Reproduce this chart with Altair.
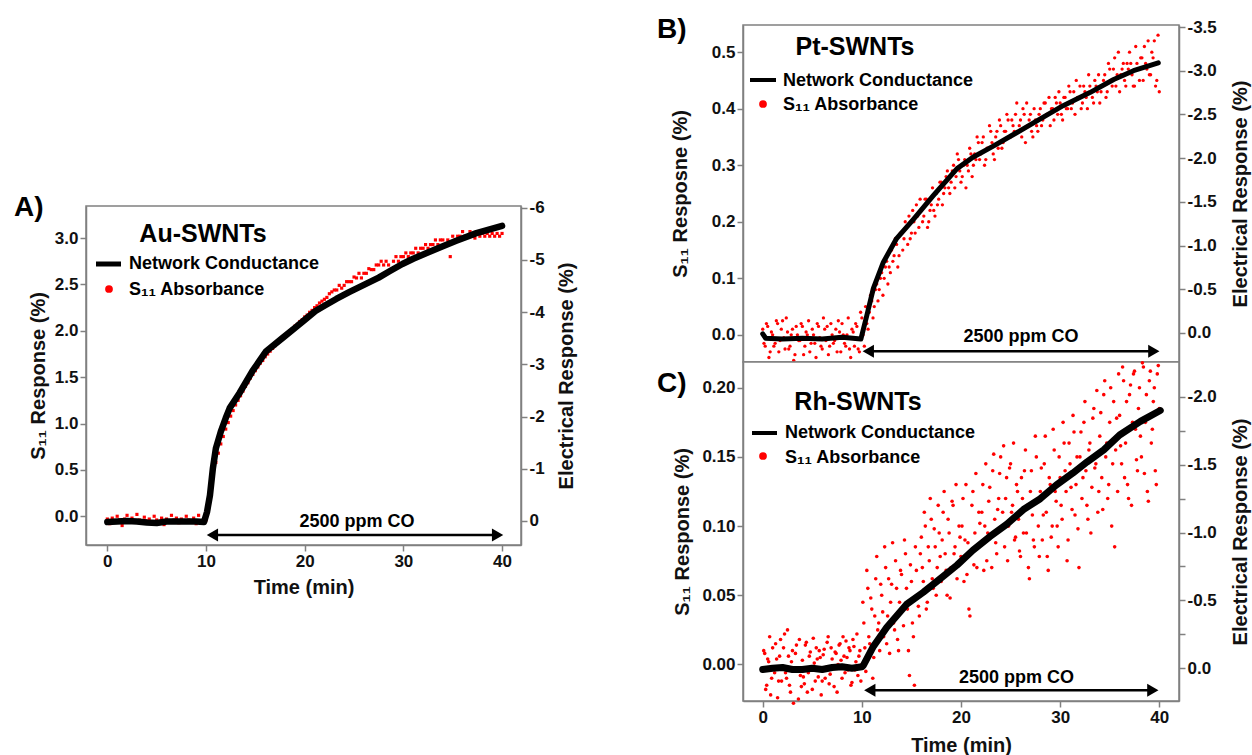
import altair as alt
import pandas as pd

FONT = "Liberation Sans"
GRAY = "#808080"
INK = "#111111"
RED = "#ff0000"

TIME_TICKS = [0, 10, 20, 30, 40]
CO_LABEL = "2500 ppm CO"
LEGEND_LINE = "Network Conductance"
LEGEND_DOTS = "S\u2081\u2081 Absorbance"
RIGHT_TITLE = "Electrical Response (%)"

# ---------------- Panel A : Au-SWNTs ----------------
a_cond_time = [0, 1, 2, 3, 4, 5, 6, 7, 8, 9, 9.8, 10.1, 10.4, 10.7, 11.0, 11.5, 12.0, 12.4,
               13.4, 14.7, 16.1, 17.8, 19.1, 20.0, 21.1, 22.0, 23.2, 24.5, 26.0, 27.5,
               28.6, 29.9, 31.0, 32.6, 34.0, 35.3, 37.4, 40.0]
a_cond = [0.02, 0.01, 0.0, 0.01, 0.03, 0.04, 0.01, 0.01, 0.01, 0.01, 0.02, -0.17, -0.49,
          -1.01, -1.39, -1.71, -1.97, -2.16, -2.45, -2.87, -3.25, -3.51, -3.71, -3.85,
          -4.02, -4.12, -4.25, -4.38, -4.52, -4.66, -4.78, -4.92, -5.02, -5.15, -5.26,
          -5.36, -5.51, -5.65]
a_s11_step = 0.25
a_s11 = [
    -0.03, -0.08, -0.02, -0.05, 0.00, -0.04, -0.10, -0.03, 0.01, -0.05,
    -0.02, -0.06, 0.02, -0.04, -0.07, -0.01, -0.05, -0.03, -0.08, 0.00,
    -0.04, -0.06, -0.02, -0.09, -0.03, -0.05, 0.01, -0.04, -0.02, -0.07,
    -0.03, -0.05, 0.00, -0.04, -0.06, -0.02, -0.08, 0.01, -0.05, -0.03,
    -0.04, 0.08, 0.28, 0.45, 0.58, 0.68, 0.78, 0.86, 0.94, 1.01, 1.08, 1.14,
    1.20, 1.25, 1.30, 1.35, 1.40, 1.44, 1.49, 1.53, 1.57, 1.61, 1.65, 1.68,
    1.72, 1.75, 1.78, 1.81, 1.84, 1.87, 1.90, 1.92, 1.95, 1.97, 2.00, 2.02,
    2.05, 2.07, 2.10, 2.12, 2.15, 2.17, 2.20, 2.22, 2.25, 2.27, 2.30, 2.32,
    2.34, 2.36, 2.40, 2.42, 2.44, 2.44, 2.49, 2.46, 2.49, 2.53, 2.53, 2.53,
    2.58, 2.57, 2.62, 2.57, 2.62, 2.62, 2.67, 2.66, 2.66, 2.71, 2.71, 2.75,
    2.71, 2.75, 2.71, 2.66, 2.75, 2.80, 2.75, 2.80, 2.80, 2.84, 2.80, 2.84,
    2.84, 2.89, 2.84, 2.89, 2.89, 2.93, 2.89, 2.93, 2.93, 2.98, 2.93, 2.98,
    2.98, 2.93, 2.98, 2.80, 3.02, 2.98, 3.02, 3.02, 3.07, 3.02, 3.02, 3.07,
    3.02, 3.00, 3.05, 3.02, 3.05, 3.02, 3.05, 3.02, 3.05, 3.02, 3.05, 3.02,
    3.05]

# ---------------- Panel B : Pt-SWNTs ----------------
b_cond_time = [0, 0.3, 2, 4, 6, 8, 9.9, 10.5, 11.16, 12.17, 13.5, 15.2, 17.2, 19.6, 21.2,
               23.3, 25.6, 28.0, 30.3, 33.0, 35.4, 37.4, 39.9]
b_cond = [0.01, 0.06, 0.07, 0.06, 0.07, 0.05, 0.07, -0.20, -0.51, -0.81, -1.08, -1.30,
          -1.57, -1.88, -2.01, -2.14, -2.29, -2.45, -2.60, -2.75, -2.90, -3.00, -3.09]
b_s11_step = 0.25
b_s11 = [
    0.01, -0.02, 0.015, -0.03, 0.0, -0.015, 0.02, -0.01, 0.025, -0.025,
    0.005, -0.02, 0.01, -0.035, 0.0, -0.01, 0.015, -0.02, 0.0, -0.03,
    0.01, -0.015, 0.02, -0.005, -0.025, 0.01, 0.015, -0.02, 0.0, -0.01,
    -0.03, 0.005, 0.02, -0.015, 0.0, -0.025, 0.01, -0.02, 0.015, -0.03,
    0.03, -0.02, 0.02, 0.04, 0.06, 0.05, 0.09, 0.08, 0.11, 0.10, 0.13, 0.12,
    0.15, 0.14, 0.16, 0.14, 0.18, 0.17, 0.19, 0.21, 0.18, 0.20, 0.23, 0.19,
    0.22, 0.21, 0.24, 0.20, 0.23, 0.22, 0.25, 0.24, 0.27, 0.25, 0.28, 0.26,
    0.27, 0.30, 0.28, 0.31, 0.27, 0.30, 0.26, 0.29, 0.32, 0.30, 0.31, 0.34,
    0.32, 0.35, 0.31, 0.33, 0.36, 0.32, 0.35, 0.33, 0.37, 0.34, 0.36, 0.38,
    0.35, 0.37, 0.39, 0.36, 0.38, 0.40, 0.34, 0.37, 0.39, 0.35, 0.38, 0.36,
    0.40, 0.38, 0.41, 0.39, 0.37, 0.40, 0.42, 0.39, 0.41, 0.38, 0.42, 0.40,
    0.43, 0.41, 0.39, 0.42, 0.44, 0.41, 0.43, 0.40, 0.44, 0.42, 0.45, 0.43,
    0.41, 0.44, 0.46, 0.43, 0.47, 0.44, 0.49, 0.46, 0.43, 0.47, 0.45, 0.48,
    0.50, 0.46, 0.44, 0.48, 0.45, 0.49, 0.51, 0.47, 0.46, 0.50, 0.52, 0.45,
    0.43]
# second interleaved scan (starts at 0.125 min)
b_s11_b = [
    -0.015, 0.02, -0.04, 0.005, -0.02, 0.025, -0.03, 0.01, -0.005, 0.03,
    -0.025, 0.0, -0.045, 0.015, -0.01, 0.02, -0.035, 0.005, 0.025, -0.015,
    0.0, -0.04, 0.015, -0.02, 0.03, -0.01, -0.035, 0.02, -0.015, 0.01,
    0.025, -0.03, 0.0, -0.02, 0.03, -0.04, 0.005, 0.02, -0.025, 0.04,
    0.0, 0.05, 0.01, 0.07, 0.03, 0.08, 0.06, 0.10, 0.07, 0.12, 0.09, 0.11,
    0.13, 0.17, 0.12, 0.18, 0.15, 0.20, 0.16, 0.17, 0.22, 0.18, 0.21, 0.24,
    0.20, 0.24, 0.19, 0.22, 0.26, 0.21, 0.23, 0.27, 0.23, 0.26, 0.29, 0.25,
    0.29, 0.26, 0.32, 0.29, 0.28, 0.31, 0.30, 0.33, 0.28, 0.32, 0.35, 0.31,
    0.34, 0.30, 0.33, 0.37, 0.34, 0.31, 0.36, 0.38, 0.33, 0.36, 0.39, 0.35,
    0.38, 0.36, 0.41, 0.37, 0.35, 0.39, 0.41, 0.38, 0.36, 0.40, 0.37, 0.39,
    0.37, 0.41, 0.39, 0.42, 0.40, 0.38, 0.41, 0.43, 0.39, 0.42, 0.40, 0.44,
    0.40, 0.43, 0.45, 0.42, 0.40, 0.44, 0.42, 0.46, 0.43, 0.41, 0.44, 0.46,
    0.43, 0.45, 0.42, 0.48, 0.45, 0.47, 0.44, 0.50, 0.46, 0.48, 0.44, 0.47,
    0.48, 0.44, 0.51, 0.47, 0.49, 0.45, 0.48, 0.52, 0.46, 0.49, 0.44, 0.53]

# ---------------- Panel C : Rh-SWNTs ----------------
c_cond_time = [0, 1, 2, 3, 4, 5, 6, 7, 8, 9, 10, 10.15, 11.16, 12.5, 14.5, 16.2, 17.9, 19.6,
               21.2, 22.9, 24.6, 26.3, 28.0, 29.6, 31.3, 32.7, 34.4, 36.0, 38.1, 40.1]
c_cond = [0.01, 0.0, -0.005, 0.01, 0.01, 0.0, 0.01, -0.005, -0.01, 0.0, -0.01, -0.02,
          -0.16, -0.30, -0.47, -0.56, -0.66, -0.76, -0.87, -0.97, -1.06, -1.17, -1.25,
          -1.35, -1.44, -1.52, -1.61, -1.72, -1.82, -1.90]
c_s11_step = 0.2
c_s11 = [
    -0.004, 0.008, -0.015, 0.002, -0.022, 0.012, -0.006, 0.004, -0.012, 0.018,
    -0.002, 0.022, -0.010, 0.006, -0.020, 0.010, -0.003, 0.014, -0.025, -0.008,
    0.003, -0.014, 0.016, -0.006, 0.009, -0.018, 0.001, 0.012, -0.009, 0.005,
    -0.012, 0.011, -0.002, 0.020, -0.007, 0.004, -0.016, 0.008, 0.000, 0.015,
    -0.010, 0.006, 0.017, -0.004, 0.010, -0.013, 0.013, 0.002, -0.008, 0.010,
    0.000, 0.030, -0.005, 0.055, 0.015, 0.040, 0.005, 0.062, 0.025, 0.010,
    0.050, 0.020, 0.070, 0.035, 0.008, 0.058, 0.030, 0.075, 0.018, 0.045,
    0.065, 0.028, 0.080, 0.040, -0.008, 0.060, 0.020, 0.085, 0.050, 0.035,
    0.092, 0.060, 0.100, 0.045, 0.075, 0.105, 0.055, 0.085, 0.070, 0.095,
    0.060, 0.110, 0.080, 0.050, 0.095, 0.070, 0.115, 0.085, 0.062, 0.100,
    0.078, 0.120, 0.090, 0.065, 0.040, 0.082, 0.125, 0.095, 0.070, 0.110,
    0.088, 0.130, 0.100, 0.075, 0.118, 0.092, 0.140, 0.105, 0.080, 0.120,
    0.150, 0.110, 0.085, 0.135, 0.100, 0.145, 0.115, 0.090, 0.130, 0.105,
    0.078, 0.120, 0.140, 0.095, 0.070, 0.125, 0.108, 0.085, 0.150, 0.100,
    0.125, 0.090, 0.145, 0.110, 0.068, 0.130, 0.100, 0.155, 0.118, 0.085,
    0.135, 0.105, 0.160, 0.125, 0.090, 0.145, 0.112, 0.168, 0.130, 0.098,
    0.150, 0.120, 0.175, 0.140, 0.105, 0.160, 0.128, 0.185, 0.145, 0.110,
    0.165, 0.135, 0.195, 0.150, 0.120, 0.175, 0.100, 0.190, 0.155, 0.125,
    0.180, 0.145, 0.205, 0.160, 0.130, 0.195, 0.115, 0.210, 0.170, 0.140,
    0.200, 0.150, 0.215, 0.175, 0.125, 0.205, 0.160, 0.190, 0.140, 0.210,
    0.185]
# second interleaved scan (starts at 0.1 min)
c_s11_b = [
    0.010, -0.018, 0.004, 0.020, -0.010, -0.002, 0.015, -0.024, 0.006, -0.012,
    0.012, -0.006, 0.025, -0.015, 0.002, -0.028, 0.008, -0.004, 0.018, -0.016,
    -0.009, 0.014, -0.020, 0.006, -0.003, 0.019, -0.012, 0.004, 0.010, -0.022,
    0.007, -0.010, 0.016, -0.014, 0.012, -0.001, 0.009, -0.020, 0.014, 0.003,
    0.020, -0.006, 0.005, 0.012, -0.015, 0.018, -0.004, 0.022, 0.006, -0.012,
    0.045, 0.012, 0.068, 0.020, 0.048, -0.010, 0.035, 0.078, 0.030, 0.058,
    0.038, 0.085, 0.015, 0.062, 0.045, 0.088, 0.025, 0.055, 0.010, 0.068,
    0.040, 0.090, 0.055, 0.010, 0.072, 0.030, -0.015, 0.068, 0.042, 0.080,
    0.070, 0.110, 0.040, 0.085, 0.120, 0.062, 0.098, 0.050, 0.115, 0.078,
    0.090, 0.125, 0.068, 0.105, 0.048, 0.118, 0.080, 0.130, 0.072, 0.092,
    0.100, 0.060, 0.130, 0.088, 0.035, 0.115, 0.072, 0.138, 0.085, 0.102,
    0.110, 0.068, 0.145, 0.095, 0.128, 0.070, 0.152, 0.088, 0.112, 0.138,
    0.098, 0.158, 0.120, 0.075, 0.142, 0.110, 0.160, 0.092, 0.125, 0.082,
    0.135, 0.095, 0.155, 0.115, 0.062, 0.140, 0.090, 0.165, 0.118, 0.078,
    0.142, 0.108, 0.165, 0.078, 0.135, 0.092, 0.170, 0.125, 0.100, 0.150,
    0.115, 0.175, 0.140, 0.075, 0.160, 0.128, 0.180, 0.108, 0.150, 0.070,
    0.168, 0.135, 0.190, 0.115, 0.155, 0.095, 0.178, 0.142, 0.198, 0.125,
    0.182, 0.112, 0.205, 0.160, 0.130, 0.200, 0.145, 0.085, 0.178, 0.210,
    0.158, 0.215, 0.135, 0.190, 0.120, 0.202, 0.175, 0.212, 0.148, 0.185,
    0.165, 0.218, 0.138, 0.195, 0.118, 0.212, 0.170, 0.200, 0.130, 0.216]

ONE = pd.DataFrame({"k": [0]})


def neg_label(fmt):
    return ("datum.value < 0 ? '-' + format(-datum.value, '%s') : format(datum.value, '%s')"
            % (fmt, fmt))


def txt(text, x, y, size, align="left"):
    return alt.Chart(ONE).mark_text(
        text=text, font=FONT, fontSize=size, fontWeight="bold", color="black",
        align=align, baseline="middle").encode(x=alt.value(x), y=alt.value(y))


def scan_frame(scans):
    ts, vs = [], []
    for values, start, step in scans:
        ts += [round(start + i * step, 3) for i in range(len(values))]
        vs += list(values)
    return pd.DataFrame({"t": ts, "s": vs})


def panel(p):
    xs = alt.Scale(domain=p["xdom"], nice=False, zero=False)
    ls = alt.Scale(domain=p["ldom"], nice=False, zero=False)
    rs = alt.Scale(domain=p["rdom"], nice=False, zero=False)
    if p["xlabels"]:
        xax = alt.Axis(values=TIME_TICKS, format="d", title="Time (min)",
                       titlePadding=p["xtp"], labelFlush=False)
    else:
        xax = alt.Axis(values=TIME_TICKS, labels=False, title=None)
    lax = alt.Axis(orient="left", values=p["lvals"], labelExpr=neg_label(p["lfmt"]),
                   title=p["ltitle"], titlePadding=p["ltp"], labelFlush=False)
    rax = alt.Axis(orient="right", values=p["rvals"], labelExpr=p["rexpr"],
                   title=RIGHT_TITLE, titlePadding=p["rtp"], titleAngle=270,
                   titleBaseline="top", labelFlush=False)
    X = alt.X("t:Q", scale=xs, axis=xax)
    YL = alt.Y("s:Q", scale=ls, axis=lax)

    red = alt.Chart(scan_frame(p["scans"])).mark_point(
        shape=p["dot_shape"], filled=True, size=p["dot_size"], color=RED, opacity=1,
        strokeWidth=0).encode(x=X, y=YL)

    t0, t1, ay = p["arrow"]
    rule_df = pd.DataFrame({"t": [t0 + 0.4], "t2": [t1 - 0.4], "s": [ay]})
    rule = alt.Chart(rule_df).mark_rule(color="black", strokeWidth=2.5).encode(
        x=X, x2="t2:Q", y=YL)
    head_df = pd.DataFrame({"t": [t0 + 0.65, t1 - 0.65], "s": [ay, ay], "d": ["L", "R"]})
    heads = alt.Chart(head_df).mark_point(filled=True, size=170, color="black",
                                          opacity=1, strokeWidth=0).encode(
        x=X, y=YL,
        shape=alt.Shape("d:N", scale=alt.Scale(domain=["L", "R"],
                                               range=["triangle-left", "triangle-right"]),
                        legend=None))
    lab_df = pd.DataFrame({"t": [p["lab"][0]], "s": [p["lab"][1]], "txt": [CO_LABEL]})
    lab = alt.Chart(lab_df).mark_text(font=FONT, fontSize=18, fontWeight="bold",
                                      color="black", align="center",
                                      baseline="middle").encode(x=X, y=YL, text="txt:N")

    line_df = pd.DataFrame({"t": p["ct"], "v": p["cv"]})
    line = alt.Chart(line_df).mark_line(
        color="black", strokeWidth=p["lw"], strokeCap="round", strokeJoin="round").encode(
        x=X, y=alt.Y("v:Q", scale=rs, axis=rax))

    lg = p["legend"]
    decor = [
        txt(p["name"], lg["title"][0], lg["title"][1], 25, align="center"),
        alt.Chart(ONE).mark_rule(color="black", strokeWidth=lg["lsw"]).encode(
            x=alt.value(lg["line"][0]), x2=alt.value(lg["line"][1]),
            y=alt.value(lg["line"][2])),
        txt(LEGEND_LINE, lg["text1"][0], lg["text1"][1], 18),
        alt.Chart(ONE).mark_circle(color=RED, size=60, opacity=1).encode(
            x=alt.value(lg["dot"][0]), y=alt.value(lg["dot"][1])),
        txt(LEGEND_DOTS, lg["text2"][0], lg["text2"][1], 18),
        txt(p["letter"], lg["letter"][0], lg["letter"][1], 28),
    ]
    return alt.layer(alt.layer(red, rule, heads, lab), line, *decor).resolve_scale(
        y="independent").properties(width=p["w"], height=p["h"])


pA = dict(
    name="Au-SWNTs", letter="A)", w=435, h=339,
    xdom=[-2.16, 41.92], ldom=[-0.31, 3.346], rdom=[0.46, -6.03],
    xlabels=True, xtp=8,
    lvals=[0, 0.5, 1.0, 1.5, 2.0, 2.5, 3.0], lfmt=".1f", ltitle="S\u2081\u2081 Response (%)", ltp=6,
    rvals=[-6, -5, -4, -3, -2, -1, 0], rexpr=neg_label("d"), rtp=12,
    ct=a_cond_time, cv=a_cond, lw=6.5,
    scans=[(a_s11, 0.0, a_s11_step)],
    dot_shape="square", dot_size=10,
    arrow=(10.0, 40.2, -0.203), lab=(25.3, -0.06),
    legend=dict(title=(117, 28), line=(10, 35, 58), lsw=5, text1=(43, 58), dot=(23, 83),
                text2=(43, 84), letter=(-72, 2)),
)
pB = dict(
    name="Pt-SWNTs", letter="B)", w=436, h=337,
    xdom=[-1.99, 41.99], ldom=[-0.048, 0.548], rdom=[0.332, -3.523],
    xlabels=False, xtp=8,
    lvals=[0, 0.1, 0.2, 0.3, 0.4, 0.5], lfmt=".1f", ltitle="S\u2081\u2081 Resposne (%)", ltp=21,
    rvals=[-3.5, -3.0, -2.5, -2.0, -1.5, -1.0, -0.5, 0.0], rexpr=neg_label(".1f"), rtp=14,
    ct=b_cond_time, cv=b_cond, lw=5,
    scans=[(b_s11, 0.0, b_s11_step), (b_s11_b, 0.125, b_s11_step)],
    dot_shape="circle", dot_size=11,
    arrow=(10.0, 40.1, -0.029), lab=(26.05, -0.004),
    legend=dict(title=(112, 22), line=(7, 33, 55), lsw=4, text1=(40, 56), dot=(20, 79),
                text2=(40, 80), letter=(-86, 5)),
)
pC = dict(
    name="Rh-SWNTs", letter="C)", w=436, h=339,
    xdom=[-1.99, 41.99], ldom=[-0.0264, 0.2186], rdom=[0.242, -2.258],
    xlabels=True, xtp=10,
    lvals=[0, 0.05, 0.10, 0.15, 0.20], lfmt=".2f", ltitle="S\u2081\u2081 Response (%)", ltp=9,
    rvals=[-2.0, -1.75, -1.5, -1.25, -1.0, -0.75, -0.5, -0.25, 0.0],
    rexpr="abs(datum.value * 2 - round(datum.value * 2)) < 0.001 ? (" + neg_label(".1f") + ") : ''",
    rtp=14,
    ct=c_cond_time, cv=c_cond, lw=7,
    scans=[(c_s11, 0.0, c_s11_step), (c_s11_b, 0.1, c_s11_step)],
    dot_shape="circle", dot_size=13,
    arrow=(10.15, 40.0, -0.0186), lab=(25.6, -0.010),
    legend=dict(title=(115, 40), line=(9, 34, 71), lsw=4, text1=(42, 71), dot=(20, 94),
                text2=(42, 96), letter=(-86, 22)),
)

chartA = panel(pA)
chartB = panel(pB)
chartC = panel(pC)

spacer = alt.Chart(ONE).mark_point(opacity=0).encode(
    x=alt.value(0), y=alt.value(0)).properties(
    width=435, height=181, view=alt.ViewBackground(strokeOpacity=0))

colA = alt.vconcat(spacer, chartA, spacing=0, bounds="flush")
colBC = alt.vconcat(chartB, chartC, spacing=0, bounds="flush")

chart = alt.hconcat(colA, colBC, spacing=79).properties(
    padding={"left": 13, "top": 15, "right": 0, "bottom": 0}
).configure_view(
    stroke=GRAY, strokeWidth=1.5, fill="white"
).configure_axis(
    labelFont=FONT, titleFont=FONT, labelFontWeight="bold", titleFontWeight="bold",
    labelFontSize=17, titleFontSize=20, labelColor=INK, titleColor=INK,
    domainColor=GRAY, tickColor=GRAY, domainWidth=1.5, tickWidth=1.5, tickSize=6,
    labelPadding=2, grid=False
)

chart.save("out.html", embed_options={"renderer": "svg", "actions": False})
